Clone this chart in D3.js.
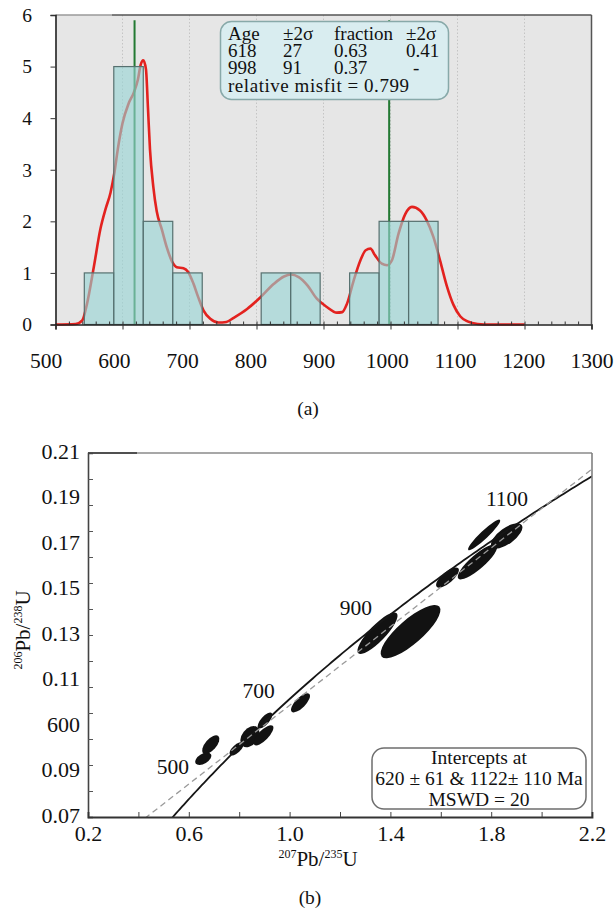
<!DOCTYPE html>
<html>
<head>
<meta charset="utf-8">
<script src="https://cdn.jsdelivr.net/npm/d3@7"></script>
<style>
body { margin: 0; background: #fff; }
text { font-family: "Liberation Serif", "Times New Roman", serif; fill: #111; }
</style>
</head>
<body>
<svg id="chart" width="616" height="913"></svg>
<script>
// ---- (a) age histogram + probability curve
const binEdges = [543, 587, 631, 675, 719, 763, 807, 851, 895, 939, 983, 1027, 1071]
const binCounts = [1, 5, 2, 1, 0, 0, 1, 1, 0, 1, 2, 2]
const pdfAge = [500, 530, 540, 547, 557, 567, 575, 582, 588, 593, 600, 609, 617, 623, 627, 631, 635, 638, 641, 646,
    651, 659, 666, 674, 681, 691, 698, 706, 713, 721, 731, 743, 755, 766, 786, 806, 826, 841, 851, 863,
    876, 890, 905, 920, 928, 935, 945, 955, 963, 970, 977, 987, 995, 1002, 1012, 1022, 1032, 1044, 1054, 1064,
    1074, 1084, 1094, 1104, 1115, 1130, 1150, 1200]
const pdfValue = [0, 0.01, 0.08, 0.4, 1.1, 1.85, 2.25, 2.55, 2.95, 3.4, 3.9, 4.28, 4.5, 4.75, 5.03, 5.12, 4.95, 4.2, 3.4, 2.67,
    2.2, 1.83, 1.5, 1.22, 1.11, 1.09, 1.02, 0.79, 0.53, 0.27, 0.11, 0.04, 0.05, 0.13, 0.3, 0.53, 0.79, 0.93, 0.97, 0.92,
    0.76, 0.5, 0.34, 0.23, 0.24, 0.4, 0.85, 1.24, 1.44, 1.47, 1.34, 1.18, 1.15, 1.24, 1.76, 2.14, 2.28, 2.21, 2.02, 1.7,
    1.24, 0.75, 0.38, 0.16, 0.06, 0.01, 0, 0]
const peakAges = [618, 998]
const peakHeight = 5.9
const mixHeader = ['Age', '±2σ', 'fraction', '±2σ']
const mixRows = [['618', '27', '0.63', '0.41'], ['998', '91', '0.37', '-']]
const misfitText = 'relative misfit = 0.799'
const ageTicks = [500, 600, 700, 800, 900, 1000, 1100, 1200, 1300]
const countTicks = [0, 1, 2, 3, 4, 5, 6]

// ---- (b) concordia
const lambda238 = 1.55125e-10
const lambda235 = 9.8485e-10
const intercepts = [620, 1122]
const ageLabels = [500, 700, 900, 1100]
// ellipses: centre (207/235, 206/238), half major axis vector, minor/major ratio
const ellX = [1.772, 1.8615, 1.7456, 1.6266, 1.3488, 1.4798, 0.6575, 0.6873, 0.8429, 0.7893, 0.9024, 0.8964, 1.0433]
const ellY = [0.1785, 0.1781, 0.1681, 0.1621, 0.1407, 0.1413, 0.0924, 0.0978, 0.1009, 0.0962, 0.1071, 0.1014, 0.1139]
const ellAx = [0.0629, 0.0595, 0.0762, 0.0429, 0.0762, 0.1143, 0.0304, 0.0298, 0.029, 0.0258, 0.0266, 0.0365, 0.0349]
const ellAy = [0.00577, 0.00417, 0.0064, 0.00354, 0.00769, 0.00962, 0.00173, 0.00333, 0.0036, 0.0023, 0.00288, 0.00365, 0.0034]
const ellRatio = [0.18, 0.43, 0.28, 0.39, 0.29, 0.32, 0.56, 0.48, 0.67, 0.45, 0.4, 0.38, 0.4]
const ratioXLabels = [0.2, 0.6, 1.0, 1.4, 1.8, 2.2]
const ratioXTicks = [0.4, 0.6, 0.8, 1.0, 1.2, 1.4, 1.6, 1.8, 2.0]
const ratioYTicks = [0.08, 0.09, 0.10, 0.11, 0.12, 0.13, 0.14, 0.15, 0.16, 0.17, 0.18, 0.19, 0.20]
const ratioYLabels = ['0.21', '0.19', '0.17', '0.15', '0.13', '0.11', '600', '0.09', '0.07']
const interceptText = ['Intercepts at', '620 ± 61 & 1122± 110 Ma', 'MSWD = 20']

const svg = d3.select('#chart')

// ================= panel (a)
const x = d3.scaleLinear().domain([500, 1300]).range([55.5, 591.5])
const y = d3.scaleLinear().domain([0, 6]).range([324.5, 15])
const xLab = d3.scaleLinear().domain([500, 1300]).range([x(500) - 10, x(1300)])

const pa = svg.append('g')

pa.append('rect')
    .attr('x', x(500)).attr('y', y(6))
    .attr('width', x(1300) - x(500)).attr('height', y(0) - y(6))
    .attr('fill', '#e6e6e6')

pa.append('g')
    .selectAll('line')
    .data(ageTicks.slice(1, -1))
    .enter()
    .append('line')
    .attr('x1', d => x(d)).attr('x2', d => x(d))
    .attr('y1', y(6)).attr('y2', y(0))
    .attr('stroke', '#c4c4c4')
    .attr('stroke-width', 1)
    .attr('stroke-dasharray', '1.5,2')

const pdf = pdfAge.map((a, i) => [a, pdfValue[i]])
pa.append('path')
    .datum(pdf)
    .attr('fill', 'none')
    .attr('stroke', '#e3221f')
    .attr('stroke-width', 2.6)
    .attr('d', d3.line().x(d => x(d[0])).y(d => y(d[1])).curve(d3.curveMonotoneX))

pa.append('g')
    .selectAll('line')
    .data(peakAges)
    .enter()
    .append('line')
    .attr('x1', d => x(d)).attr('x2', d => x(d))
    .attr('y1', y(peakHeight)).attr('y2', y(0))
    .attr('stroke', '#237a33')
    .attr('stroke-width', 2)

pa.append('g')
    .selectAll('rect')
    .data(binCounts.map((c, i) => ({ x0: binEdges[i], x1: binEdges[i + 1], c })).filter(d => d.c > 0))
    .enter()
    .append('rect')
    .attr('x', d => x(d.x0))
    .attr('width', d => x(d.x1) - x(d.x0))
    .attr('y', d => y(d.c))
    .attr('height', d => y(0) - y(d.c))
    .attr('fill', 'rgba(150, 212, 212, 0.62)')
    .attr('stroke', '#56706f')
    .attr('stroke-width', 1.2)

// frame
pa.append('line').attr('x1', x(500)).attr('x2', 112).attr('y1', y(6)).attr('y2', y(6))
    .attr('stroke', '#9a9a9a').attr('stroke-width', 1.5)
pa.append('line').attr('x1', 112).attr('x2', x(1300)).attr('y1', y(6)).attr('y2', y(6))
    .attr('stroke', '#555').attr('stroke-width', 1.5)
pa.append('line').attr('x1', x(1300)).attr('x2', x(1300)).attr('y1', y(6)).attr('y2', y(0))
    .attr('stroke', '#555').attr('stroke-width', 1.5)

// y axis
const yAxisA = pa.append('g')
    .attr('transform', `translate(${x(500)},0)`)
    .call(d3.axisLeft(y).tickValues(countTicks).tickSize(5).tickPadding(18.5).tickFormat(d3.format('d')))
yAxisA.select('.domain').attr('stroke', '#222').attr('stroke-width', 1.6)
yAxisA.selectAll('.tick line').attr('stroke', '#333')
yAxisA.selectAll('text').attr('font-size', 19.5).attr('fill', '#111')

// x axis: minor ticks up, major ticks down, labels
pa.append('g')
    .attr('transform', `translate(0,${y(0)})`)
    .call(d3.axisBottom(x).tickValues(d3.range(520, 1300, 20)).tickSize(-3).tickFormat(''))
    .call(g => g.select('.domain').remove())
    .selectAll('.tick line').attr('stroke', '#333')
const xAxisA = pa.append('g')
    .attr('transform', `translate(0,${y(0)})`)
    .call(d3.axisBottom(x).tickValues(ageTicks).tickSize(5).tickFormat(''))
xAxisA.select('.domain').attr('stroke', '#222').attr('stroke-width', 1.6)
xAxisA.selectAll('.tick line').attr('stroke', '#333')
pa.append('g')
    .attr('transform', `translate(0,${y(0)})`)
    .call(d3.axisBottom(xLab).tickValues(ageTicks).tickSize(0).tickPadding(28).tickFormat(d3.format('d')))
    .call(g => g.select('.domain').remove())
    .selectAll('text').attr('font-size', 21.5).attr('fill', '#111')

// mixture box
pa.append('rect')
    .attr('x', 220.5).attr('y', 21.5).attr('width', 228).attr('height', 78).attr('rx', 11)
    .attr('fill', '#d9edf0').attr('stroke', '#88a9a9').attr('stroke-width', 1.5)
const colX = [228, 283, 334, 406]
const rowY = [39.5, 57, 74]
const boxRows = [mixHeader].concat(mixRows)
boxRows.forEach((row, r) => {
    pa.append('g')
        .selectAll('text')
        .data(row)
        .enter()
        .append('text')
        .attr('x', (d, i) => d === '-' ? colX[i] + 7 : colX[i])
        .attr('y', rowY[r])
        .attr('font-size', 19)
        .text(d => d)
})
pa.append('text').attr('x', 228).attr('y', 91.5).attr('font-size', 19)
    .attr('textLength', 181).attr('lengthAdjust', 'spacing').text(misfitText)

svg.append('text').attr('x', 308).attr('y', 415).attr('text-anchor', 'middle').attr('font-size', 19.5).text('(a)')

// ================= panel (b)
const bx = d3.scaleLinear().domain([0.2, 2.2]).range([88, 592])
const by = d3.scaleLinear().domain([0.07, 0.21]).range([817, 453])
const byLab = d3.scalePoint().domain(ratioYLabels).range([by(0.21) - 2, by(0.07) - 1.5])

const pb = svg.append('g')
pb.append('defs').append('clipPath').attr('id', 'clipb')
    .append('rect').attr('x', bx(0.2)).attr('y', by(0.21)).attr('width', bx(2.2) - bx(0.2)).attr('height', by(0.07) - by(0.21))

// ellipses
const ells = ellX.map((cx, i) => {
    const px = bx(cx), py = by(ellY[i])
    const ex = bx(cx + ellAx[i]), ey = by(ellY[i] + ellAy[i])
    const a = Math.hypot(ex - px, ey - py)
    return { px, py, a, b: a * ellRatio[i], ang: Math.atan2(ey - py, ex - px) * 180 / Math.PI }
})
pb.append('g')
    .selectAll('ellipse')
    .data(ells)
    .enter()
    .append('ellipse')
    .attr('cx', 0).attr('cy', 0)
    .attr('rx', d => d.a).attr('ry', d => d.b)
    .attr('transform', d => `translate(${d.px},${d.py}) rotate(${d.ang})`)
    .attr('fill', '#121212')

// concordia curve
const concordia = t => [Math.exp(lambda235 * t * 1e6) - 1, Math.exp(lambda238 * t * 1e6) - 1]
const concAges = d3.range(400, 1260, 5)
pb.append('path')
    .datum(concAges.map(concordia))
    .attr('clip-path', 'url(#clipb)')
    .attr('fill', 'none')
    .attr('stroke', '#161616')
    .attr('stroke-width', 1.8)
    .attr('d', d3.line().x(d => bx(d[0])).y(d => by(d[1])))

// discordia through the two intercepts
const p1 = concordia(intercepts[0]), p2 = concordia(intercepts[1])
const slope = (p2[1] - p1[1]) / (p2[0] - p1[0])
const discX = [0.3, 2.3]
pb.append('path')
    .datum(discX.map(v => [v, p1[1] + slope * (v - p1[0])]))
    .attr('clip-path', 'url(#clipb)')
    .attr('fill', 'none')
    .attr('stroke', '#9a9a9a')
    .attr('stroke-width', 1.3)
    .attr('stroke-dasharray', '6,4')
    .attr('d', d3.line().x(d => bx(d[0])).y(d => by(d[1])))

// age labels on concordia
const labelNudge = { 500: [-9, -15], 700: [-13, -3], 900: [-25, 6], 1100: [-2, -9] }
pb.append('g')
    .selectAll('text')
    .data(ageLabels)
    .enter()
    .append('text')
    .attr('x', d => bx(concordia(d)[0]) + labelNudge[d][0])
    .attr('y', d => by(concordia(d)[1]) + labelNudge[d][1])
    .attr('text-anchor', 'end')
    .attr('font-size', 21.5)
    .text(d => d)

// frame
pb.append('line').attr('x1', bx(0.2)).attr('x2', bx(2.2)).attr('y1', by(0.21)).attr('y2', by(0.21))
    .attr('stroke', '#8a8a8a').attr('stroke-width', 1.5)
pb.append('line').attr('x1', bx(0.2)).attr('x2', 137).attr('y1', by(0.21)).attr('y2', by(0.21))
    .attr('stroke', '#333').attr('stroke-width', 1.6)
pb.append('line').attr('x1', bx(2.2)).attr('x2', bx(2.2)).attr('y1', by(0.21)).attr('y2', by(0.07))
    .attr('stroke', '#808080').attr('stroke-width', 1.6)

const yAxisB = pb.append('g')
    .attr('transform', `translate(${bx(0.2)},0)`)
    .call(d3.axisLeft(by).tickValues(ratioYTicks).tickSize(-5).tickFormat(''))
yAxisB.select('.domain').attr('stroke', '#444').attr('stroke-width', 1.6)
yAxisB.selectAll('.tick line').attr('stroke', '#555')
pb.append('g')
    .attr('transform', `translate(${bx(0.2)},0)`)
    .call(d3.axisLeft(byLab).tickSize(0).tickPadding(8))
    .call(g => g.select('.domain').remove())
    .selectAll('text').attr('font-size', 22).attr('fill', '#111')

const xAxisB = pb.append('g')
    .attr('transform', `translate(0,${by(0.07)})`)
    .call(d3.axisBottom(bx).tickValues(ratioXTicks).tickSize(-5).tickFormat(''))
xAxisB.select('.domain').attr('stroke', '#333').attr('stroke-width', 1.8)
xAxisB.selectAll('.tick line').attr('stroke', '#444')
pb.append('g')
    .attr('transform', `translate(0,${by(0.07)})`)
    .call(d3.axisBottom(bx).tickValues(ratioXLabels).tickSize(0).tickPadding(8).tickFormat(d3.format('.1f')))
    .call(g => g.select('.domain').remove())
    .selectAll('text').attr('font-size', 22).attr('fill', '#111')

// axis titles with superscripts
function isoTitle(sel, m1, m2) {
    sel.append('tspan').attr('font-size', 12).attr('dy', -8).text(m1)
    sel.append('tspan').attr('dy', 8).text('Pb/')
    sel.append('tspan').attr('font-size', 12).attr('dy', -8).text(m2)
    sel.append('tspan').attr('dy', 8).text('U')
}
pb.append('text')
    .attr('x', 318).attr('y', 866).attr('text-anchor', 'middle').attr('font-size', 21)
    .call(isoTitle, '207', '235')
pb.append('text')
    .attr('transform', 'translate(30,630) rotate(-90)').attr('text-anchor', 'middle').attr('font-size', 21)
    .call(isoTitle, '206', '238')

// intercept box
pb.append('rect')
    .attr('x', 372).attr('y', 748).attr('width', 214).attr('height', 61).attr('rx', 12)
    .attr('fill', '#fff').attr('stroke', '#6e6e6e').attr('stroke-width', 1.5)
pb.append('g')
    .selectAll('text')
    .data(interceptText)
    .enter()
    .append('text')
    .attr('x', 479)
    .attr('y', (d, i) => 764 + i * 21)
    .attr('text-anchor', 'middle')
    .attr('font-size', 19.5)
    .text(d => d)

svg.append('text').attr('x', 310).attr('y', 904).attr('text-anchor', 'middle').attr('font-size', 19.5).text('(b)')
</script>
</body>
</html>
